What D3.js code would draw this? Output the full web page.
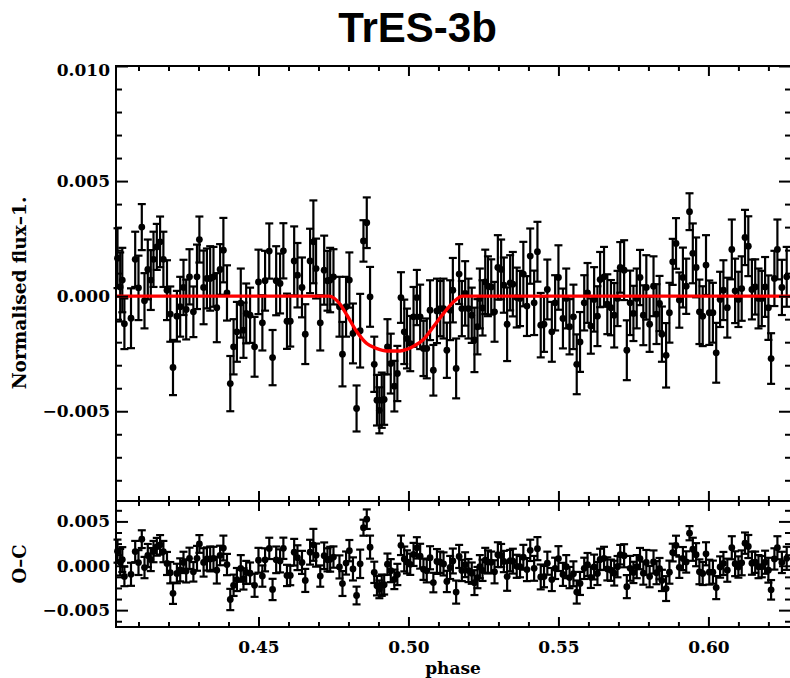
<html>
<head>
<meta charset="utf-8">
<style>
    body { margin: 0; background: #ffffff; }
    svg { display: block; }
</style>
<script src="https://cdn.jsdelivr.net/npm/d3@7"></script>
</head>
<body>
<svg id="Grafico"></svg>
<script>
    // phase of each point
    const phase = [
        0.4030, 0.4039, 0.4046, 0.4053, 0.4075, 0.4089, 0.4100, 0.4111, 0.4120, 0.4131,
        0.4141, 0.4150, 0.4161, 0.4172, 0.4183, 0.4195, 0.4206, 0.4215, 0.4228, 0.4239,
        0.4250, 0.4259, 0.4270, 0.4283, 0.4295, 0.4303, 0.4317, 0.4328, 0.4339, 0.4350,
        0.4361, 0.4372, 0.4383, 0.4395, 0.4406, 0.4417, 0.4428, 0.4441, 0.4450, 0.4459,
        0.4472, 0.4487, 0.4500, 0.4513, 0.4522, 0.4536, 0.4547, 0.4559, 0.4572, 0.4583,
        0.4595, 0.4606, 0.4619, 0.4630, 0.4645, 0.4656, 0.4672, 0.4683, 0.4692, 0.4706,
        0.4719, 0.4730, 0.4739, 0.4750, 0.4770, 0.4780, 0.4792, 0.4803, 0.4815, 0.4827,
        0.4839, 0.4850, 0.4861, 0.4872, 0.4886, 0.4895, 0.4903, 0.4911, 0.4919, 0.4930,
        0.4941, 0.4953, 0.4963, 0.4975, 0.4986, 0.4995, 0.5006, 0.5017, 0.5028, 0.5039,
        0.5050, 0.5061, 0.5072, 0.5083, 0.5095, 0.5106, 0.5117, 0.5128, 0.5139, 0.5148,
        0.5159, 0.5169, 0.5178, 0.5189, 0.5200, 0.5211, 0.5220, 0.5230, 0.5238, 0.5247,
        0.5256, 0.5265, 0.5276, 0.5287, 0.5298, 0.5309, 0.5318, 0.5329, 0.5339, 0.5348,
        0.5361, 0.5372, 0.5383, 0.5395, 0.5406, 0.5419, 0.5430, 0.5441, 0.5452, 0.5463,
        0.5478, 0.5489, 0.5500, 0.5515, 0.5526, 0.5537, 0.5550, 0.5561, 0.5572, 0.5586,
        0.5597, 0.5608, 0.5619, 0.5630, 0.5639, 0.5652, 0.5663, 0.5675, 0.5686, 0.5697,
        0.5706, 0.5719, 0.5728, 0.5739, 0.5750, 0.5761, 0.5772, 0.5783, 0.5793, 0.5804,
        0.5817, 0.5827, 0.5837, 0.5845, 0.5859, 0.5870, 0.5881, 0.5892, 0.5903, 0.5915,
        0.5926, 0.5937, 0.5948, 0.5959, 0.5970, 0.5981, 0.5992, 0.6003, 0.6015, 0.6026,
        0.6039, 0.6050, 0.6063, 0.6078, 0.6089, 0.6100, 0.6111, 0.6122, 0.6133, 0.6145,
        0.6156, 0.6167, 0.6178, 0.6189, 0.6200, 0.6209, 0.6220, 0.6230, 0.6245, 0.6261
    ];

    // normalised flux - 1, in units of 1e-3
    const fluxPpt = [
        1.65, 0.40, 0.70, -1.20, -0.96, 1.60, 0.36, 3.00, -0.20, 1.16,
        0.70, 1.60, 2.14, 2.36, 1.60, 0.26, -0.78, -3.10, -0.87, -0.46,
        0.38, -0.58, 0.84, -0.68, 0.84, 2.46, 0.38, 0.77, 0.77, 0.84,
        -0.50, 1.16, 2.00, 0.14, -3.80, -2.20, -1.55, -0.30, -1.48, -0.75,
        -0.83, -2.20, 0.62, -1.16, 0.67, 1.96, -2.67, 0.67, 0.55, 1.97,
        -1.09, -1.09, 1.53, 0.91, 0.38, -1.65, 1.53, 2.36, 1.20, -1.16,
        1.13, 0.67, 0.70, 0.84, -0.46, -2.52, -0.46, 0.70, -1.62, -4.88,
        -1.50, 2.40, 3.19, -0.03, -2.96, -4.52, -4.96, -4.52, -4.49, -2.20,
        -2.93, -3.91, -3.36, -0.06, -1.55, -1.84, -2.06, -0.90, -0.06, -0.90,
        -2.27, -2.27, -0.61, -3.22, -0.64, -0.54, -0.54, -2.35, -0.61, 0.26,
        -3.14, 0.96, -0.54, 0.12, -0.54, -0.83, -1.90, -1.33, -0.10, -0.51,
        0.62, 0.43, 0.40, -0.68, 1.25, 1.16, 0.48, -1.22, 0.58, 0.52,
        -0.06, -0.10, 0.96, -0.43, 1.74, -0.29, 1.93, -1.26, -1.22, 0.29,
        -1.55, -0.29, 0.81, -0.97, -0.10, -1.33, -0.90, -2.96, -1.99, -0.29,
        0.14, -1.30, -0.14, -0.87, 0.72, 0.84, -0.35, -0.50, -0.83, -0.10,
        1.25, 1.13, -2.35, -0.29, -0.75, -0.10, 0.81, -0.83, 0.38, -1.22,
        0.43, -0.78, -0.32, -1.65, -2.57, -0.72, 1.49, 2.29, -0.17, 0.81,
        0.43, 3.67, 1.86, 1.25, -0.68, -0.87, 1.35, -0.72, -0.72, -2.46,
        -0.14, 0.26, -0.50, 2.03, 0.23, -0.14, 0.33, 2.55, 2.17, 0.29,
        0.40, -0.10, -0.10, 0.40, -0.50, -2.71, 0.77, 2.03, 0.38, 0.84
    ];

    // error bar half length, in units of 1e-3
    const errPpt = [
        1.3, 1.5, 1.4, 1.1, 1.3, 1.2, 1.4, 1.0, 1.2, 1.3,
        1.3, 1.2, 1.0, 1.1, 1.2, 1.3, 1.2, 1.2, 1.1, 1.3,
        1.2, 1.3, 1.2, 1.1, 1.4, 1.0, 1.6, 1.3, 1.4, 1.3,
        1.5, 1.1, 1.4, 1.2, 1.2, 1.2, 1.3, 1.5, 1.2, 1.3,
        1.2, 1.3, 1.4, 1.2, 1.3, 1.2, 1.2, 1.5, 1.3, 1.2,
        1.2, 1.1, 1.5, 1.4, 1.3, 1.3, 1.4, 1.8, 1.3, 1.2,
        1.5, 1.3, 1.4, 1.2, 1.3, 1.4, 1.3, 1.2, 1.3, 1.0,
        1.6, 0.9, 1.1, 1.3, 1.2, 1.1, 1.0, 1.2, 1.1, 1.2,
        1.3, 1.1, 1.2, 1.1, 1.4, 1.3, 1.2, 1.3, 1.2, 1.4,
        1.2, 1.3, 1.3, 1.1, 1.4, 1.2, 1.3, 1.2, 1.3, 1.4,
        1.3, 1.3, 1.2, 1.4, 1.3, 1.2, 1.4, 1.2, 1.3, 1.2,
        1.4, 1.3, 1.2, 1.3, 1.4, 1.3, 1.2, 1.6, 1.2, 1.4,
        1.3, 1.2, 1.4, 1.3, 1.2, 1.4, 1.3, 1.4, 1.2, 1.3,
        1.3, 1.2, 1.4, 1.3, 1.3, 1.2, 1.4, 1.3, 1.3, 1.2,
        1.3, 1.2, 1.4, 1.3, 1.2, 1.3, 1.3, 1.2, 1.4, 1.2,
        1.1, 1.3, 1.3, 1.4, 1.2, 1.3, 1.2, 1.3, 1.4, 1.2,
        1.3, 1.3, 1.2, 1.2, 1.4, 1.3, 1.0, 1.1, 1.2, 1.3,
        1.2, 0.8, 1.3, 1.3, 1.4, 1.3, 1.3, 1.4, 1.3, 1.3,
        1.2, 1.3, 1.3, 1.3, 1.4, 1.2, 1.4, 1.2, 1.3, 1.3,
        1.2, 1.3, 1.2, 1.3, 1.4, 1.1, 1.2, 1.3, 1.2, 1.3
    ];

    // transit model (red curve), knots, units of 1e-3
    const modelPhase = [0.4025, 0.4735, 0.4772, 0.4795, 0.4828, 0.4861, 0.4895, 0.4928,
                        0.4972, 0.5017, 0.5050, 0.5083, 0.5117, 0.5150, 0.5180, 0.6272];
    const modelPpt   = [0, 0, -0.35, -0.83, -1.55, -2.06, -2.28, -2.38,
                        -2.38, -2.18, -1.88, -1.33, -0.75, -0.25, 0, 0];

    const xTicks = [0.45, 0.50, 0.55, 0.60];
    const xMinor = [0.41, 0.42, 0.43, 0.44, 0.46, 0.47, 0.48, 0.49, 0.51, 0.52, 0.53,
                    0.54, 0.56, 0.57, 0.58, 0.59, 0.61, 0.62];
    const topTicks = [-0.005, 0.000, 0.005, 0.010];
    const topMinor = [-0.008, -0.007, -0.006, -0.004, -0.003, -0.002, -0.001,
                      0.001, 0.002, 0.003, 0.004, 0.006, 0.007, 0.008, 0.009];
    const lowTicks = [-0.005, 0.000, 0.005];
    const lowMinor = [-0.00625, -0.00375, -0.0025, -0.00125, 0.00125, 0.0025, 0.00375, 0.00625];

    const labelFont = "'DejaVu Serif', serif";

    function configuracion() {
        let ancho = 790, alto = 678;
        let izq = 116, der = 791;
        let top = { y0: 66, y1: 501 };
        let low = { y0: 501, y1: 627 };
        let svg = d3.select("#Grafico").attr("width", ancho).attr("height", alto);
        return { ancho, alto, izq, der, top, low, svg };
    }

    function modelAt(p) {
        let i = d3.bisectRight(modelPhase, p);
        if (i <= 0) return modelPpt[0];
        if (i >= modelPhase.length) return modelPpt[modelPpt.length - 1];
        let t = (p - modelPhase[i - 1]) / (modelPhase[i] - modelPhase[i - 1]);
        return modelPpt[i - 1] + t * (modelPpt[i] - modelPpt[i - 1]);
    }

    function estiloEje(g) {
        g.select(".domain").remove();
        g.selectAll("line").attr("stroke-width", 2);
        g.attr("font-family", labelFont).attr("font-size", 17).attr("font-weight", "bold");
    }

    function dibujarEjes(cfg, x, yTop, yLow) {
        let { svg, izq, der, top, low } = cfg;

        // horizontal edges: [y position, direction of ticks, show labels]
        let bordes = [
            [top.y0, 1, false], [top.y1, -1, false],
            [low.y0, 1, false], [low.y1, -1, true]
        ];
        bordes.forEach(([yy, dir, labels]) => {
            let ejeMayor = (dir > 0 ? d3.axisTop(x) : d3.axisBottom(x))
                .tickValues(xTicks).tickSize(-10).tickPadding(14)
                .tickFormat(labels ? d3.format(".2f") : "");
            svg.append("g").attr("transform", `translate(0,${yy})`).call(ejeMayor).call(estiloEje);
            let ejeMenor = (dir > 0 ? d3.axisTop(x) : d3.axisBottom(x))
                .tickValues(xMinor).tickSize(-5).tickFormat("");
            svg.append("g").attr("transform", `translate(0,${yy})`).call(ejeMenor).call(estiloEje);
        });

        // vertical edges of both panels
        [[yTop, topTicks, topMinor], [yLow, lowTicks, lowMinor]].forEach(([y, mayores, menores]) => {
            let gIzq = svg.append("g").attr("transform", `translate(${izq},0)`)
                .call(d3.axisLeft(y).tickValues(mayores).tickSize(-12).tickPadding(6)
                    .tickFormat(d3.format(".3f")))
                .call(estiloEje);
            gIzq.selectAll("text").attr("dy", d => Math.abs(d - 0.010) < 1e-9 ? "0.55em" : "0.32em");
            svg.append("g").attr("transform", `translate(${izq},0)`)
                .call(d3.axisLeft(y).tickValues(menores).tickSize(-6).tickFormat("")).call(estiloEje);
            svg.append("g").attr("transform", `translate(${der},0)`)
                .call(d3.axisRight(y).tickValues(mayores).tickSize(-12).tickFormat("")).call(estiloEje);
            svg.append("g").attr("transform", `translate(${der},0)`)
                .call(d3.axisRight(y).tickValues(menores).tickSize(-6).tickFormat("")).call(estiloEje);
        });

        // frames
        [top, low].forEach(p => {
            svg.append("rect")
                .attr("x", izq).attr("y", p.y0)
                .attr("width", der - izq).attr("height", p.y1 - p.y0)
                .attr("fill", "none").attr("stroke", "#000").attr("stroke-width", 2);
        });
    }

    function dibujarPuntos(g, datos, x, y) {
        let cap = 4;
        let puntos = g.selectAll(".punto").data(datos).enter().append("g").attr("class", "punto");
        puntos.append("line")
            .attr("x1", d => x(d.p)).attr("x2", d => x(d.p))
            .attr("y1", d => y(d.v - d.e)).attr("y2", d => y(d.v + d.e));
        puntos.append("line")
            .attr("x1", d => x(d.p) - cap).attr("x2", d => x(d.p) + cap)
            .attr("y1", d => y(d.v + d.e)).attr("y2", d => y(d.v + d.e));
        puntos.append("line")
            .attr("x1", d => x(d.p) - cap).attr("x2", d => x(d.p) + cap)
            .attr("y1", d => y(d.v - d.e)).attr("y2", d => y(d.v - d.e));
        puntos.selectAll("line").attr("stroke", "#000").attr("stroke-width", 2.2);
        puntos.append("circle")
            .attr("cx", d => x(d.p)).attr("cy", d => y(d.v)).attr("r", 3.4)
            .attr("fill", "#000");
    }

    function dibujar() {
        let cfg = configuracion();
        let { svg, izq, der, top, low } = cfg;

        let x = d3.scaleLinear().domain([0.4025, 0.6272]).range([izq, 790]);
        let yTop = d3.scaleLinear().domain([-0.0089, 0.010]).range([top.y1, top.y0]);
        let yLow = d3.scaleLinear().domain([-0.0069, 0.0073]).range([low.y1, low.y0]);

        let datos = phase.map((p, i) => ({ p, v: fluxPpt[i] / 1000, e: errPpt[i] / 1000 }));
        let residuos = phase.map((p, i) => ({ p, v: (fluxPpt[i] - modelAt(p)) / 1000, e: errPpt[i] / 1000 }));

        dibujarPuntos(svg.append("g"), datos, x, yTop);
        dibujarPuntos(svg.append("g"), residuos, x, yLow);

        let modelo = modelPhase.map((p, i) => [p, modelPpt[i] / 1000]);
        svg.append("path")
            .datum(modelo)
            .attr("d", d3.line().x(d => x(d[0])).y(d => yTop(d[1])).curve(d3.curveMonotoneX))
            .attr("fill", "none").attr("stroke", "#ff0000").attr("stroke-width", 3.4);

        dibujarEjes(cfg, x, yTop, yLow);

        // texts
        svg.append("text").attr("x", 417.5).attr("y", 42).attr("text-anchor", "middle")
            .attr("font-family", "'Liberation Sans', Arial, sans-serif").attr("font-weight", "bold")
            .attr("font-size", 42).text("TrES-3b");
        svg.append("text").attr("x", 453).attr("y", 674).attr("text-anchor", "middle")
            .attr("font-family", labelFont).attr("font-weight", "bold")
            .attr("font-size", 17).text("phase");
        svg.append("text").attr("transform", "translate(26,293) rotate(-90)").attr("text-anchor", "middle")
            .attr("font-family", labelFont).attr("font-weight", "bold")
            .attr("font-size", 18.5).text("Normalised flux\u20131.");
        svg.append("text").attr("transform", "translate(26,564) rotate(-90)").attr("text-anchor", "middle")
            .attr("font-family", labelFont).attr("font-weight", "bold")
            .attr("font-size", 18).text("O\u2013C");
    }

    dibujar();
</script>
</body>
</html>
